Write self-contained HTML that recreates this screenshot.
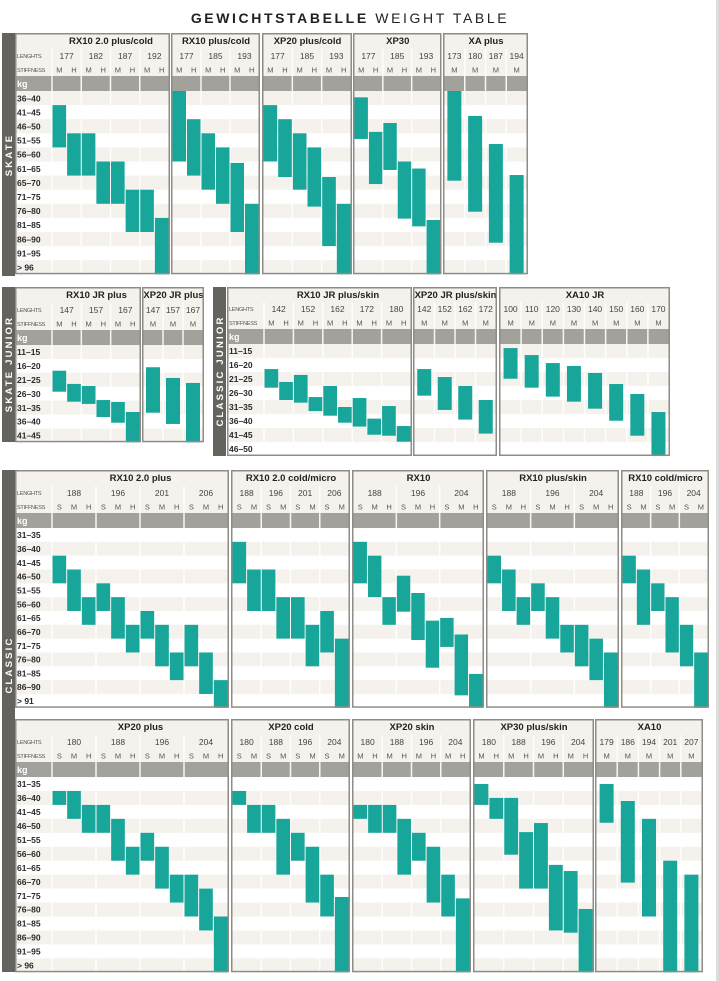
<!DOCTYPE html>
<html><head><meta charset="utf-8">
<style>
html,body{margin:0;padding:0;background:#fff;}
svg{display:block;font-family:"Liberation Sans",sans-serif;}
</style></head>
<body>
<svg id="chart" width="719" height="981" viewBox="0 0 719 981" xmlns="http://www.w3.org/2000/svg">
<rect x="716" y="0" width="3" height="981" fill="#dcdcdc"/>
<text x="350" y="23" text-anchor="middle" font-size="14" fill="#222" letter-spacing="2.6"><tspan font-weight="bold">GEWICHTSTABELLE</tspan> WEIGHT TABLE</text>
</svg>
<script>
// ---- row labels ----
const rowsSkate = ['36–40','41–45','46–50','51–55','56–60','61–65','65–70','71–75','76–80','81–85','86–90','91–95','> 96'];
const rowsJunior = ['11–15','16–20','21–25','26–30','31–35','36–40','41–45'];
const rowsClassicJunior = ['11–15','16–20','21–25','26–30','31–35','36–40','41–45','46–50'];
const rowsClassic = ['31–35','36–40','41–45','46–50','51–55','56–60','61–65','66–70','71–75','76–80','81–85','86–90','> 91'];
const rowsClassic2 = ['31–35','36–40','41–45','46–50','51–55','56–60','61–65','66–70','71–75','76–80','81–85','86–90','91–95','> 96'];

// ---- length groups [length, stiffness letters] ----
const gS1P1 = [[177,'MH'],[182,'MH'],[187,'MH'],[192,'MH']];
const gS1P2 = [[177,'MH'],[185,'MH'],[193,'MH']];
const gS1P3 = [[177,'MH'],[185,'MH'],[193,'MH']];
const gS1P4 = [[177,'MH'],[185,'MH'],[193,'MH']];
const gS1P5 = [[173,'M'],[180,'M'],[187,'M'],[194,'M']];
const gS2A = [[147,'MH'],[157,'MH'],[167,'MH']];
const gS2B = [[147,'M'],[157,'M'],[167,'M']];
const gS2C = [[142,'MH'],[152,'MH'],[162,'MH'],[172,'MH'],[180,'MH']];
const gS2D = [[142,'M'],[152,'M'],[162,'M'],[172,'M']];
const gS2E = [[100,'M'],[110,'M'],[120,'M'],[130,'M'],[140,'M'],[150,'M'],[160,'M'],[170,'M']];
const gS3P1 = [[188,'SMH'],[196,'SMH'],[201,'SMH'],[206,'SMH']];
const gS3P2 = [[188,'SM'],[196,'SM'],[201,'SM'],[206,'SM']];
const gS3P3 = [[188,'SMH'],[196,'SMH'],[204,'SMH']];
const gS3P4 = [[188,'SMH'],[196,'SMH'],[204,'SMH']];
const gS3P5 = [[188,'SM'],[196,'SM'],[204,'SM']];
const gS4P1 = [[180,'SMH'],[188,'SMH'],[196,'SMH'],[204,'SMH']];
const gS4P2 = [[180,'SM'],[188,'SM'],[196,'SM'],[204,'SM']];
const gS4P3 = [[180,'MH'],[188,'MH'],[196,'MH'],[204,'MH']];
const gS4P4 = [[180,'MH'],[188,'MH'],[196,'MH'],[204,'MH']];
const gS4P5 = [[179,'M'],[186,'M'],[194,'M'],[201,'M'],[207,'M']];

// ---- bars: [column, startRow, endRow] in weight-row units ----
const bS1P1 = [[0,1,4],[1,3,6],[2,3,6],[3,5,8],[4,5,8],[5,7,10],[6,7,10],[7,9,13]];
const bS1P2 = [[0,0,5],[1,2,6],[2,3,7],[3,4,8],[4,5.1,10],[5,8,13]];
const bS1P3 = [[0,1,5],[1,2,6.1],[2,3,7],[3,4,8.2],[4,6.1,11],[5,8,13]];
const bS1P4 = [[0,0.45,3.4],[1,2.9,6.6],[2,2.27,5.6],[3,5,9.05],[4,5.5,9.6],[5,9.15,13]];
const bS1P5 = [[0,0,6.36],[1,1.77,8.56],[2,3.76,10.76],[3,5.96,13]];
const bS2A = [[0,1.85,3.36],[1,2.8,4.08],[2,2.95,4.24],[3,3.96,5.18],[4,4.1,5.59],[5,4.82,7]];
const bS2B = [[0,1.6,4.87],[1,2.37,5.68],[2,2.73,7]];
const bS2C = [[0,1.79,3.12],[1,2.71,4],[2,2.21,4.19],[3,3.79,4.79],[4,3,5.12],[5,4.5,5.62],[6,3.86,5.9],[7,5.33,6.48],[8,4.43,6.55],[9,5.86,6.98]];
const bS2D = [[0,1.79,3.69],[1,2.36,4.71],[2,3,5.4],[3,4,6.4]];
const bS2E = [[0,0.29,2.48],[1,0.79,3.12],[2,1.36,3.76],[3,1.57,4.12],[4,2.07,4.62],[5,2.86,5.48],[6,3.57,6.55],[7,4.86,7.9]];
const bS3P1 = [[0,2,4],[1,3,6],[2,5,7],[3,4,6],[4,5,8],[5,7,9],[6,6,8],[7,7,10],[8,9,11],[9,7,10],[10,9,12],[11,11,13]];
const bS3P2 = [[0,1,4],[1,3,6],[2,3,6],[3,5,8],[4,5,8],[5,7,10],[6,6,9],[7,8,13]];
const bS3P3 = [[0,1,4],[1,2,5],[2,5,7],[3,3.45,6.05],[4,4.7,8.1],[5,6.7,10.1],[6,6.5,8.6],[7,7.7,12.1],[8,10.55,13]];
const bS3P4 = [[0,2,4],[1,3,6],[2,5,7],[3,4,6],[4,5,8],[5,7,9],[6,7,10],[7,8,11],[8,9,13]];
const bS3P5 = [[0,2,4],[1,3,7],[2,4,6],[3,5,9],[4,7,10],[5,9,13]];
const bS4P1 = [[0,1,2],[1,1,3],[2,2,4],[3,2,4],[4,3,6],[5,5,7],[6,4,6],[7,5,8],[8,7,9],[9,7,10],[10,8,11],[11,10,14]];
const bS4P2 = [[0,1,2],[1,2,4],[2,2,4],[3,3,7],[4,4,6],[5,5,9],[6,7,10],[7,8.6,14]];
const bS4P3 = [[0,2,3],[1,2,4],[2,2,4],[3,3,7],[4,4,6],[5,5,9],[6,7,10],[7,8.7,14]];
const bS4P4 = [[0,0.5,2],[1,1.5,3],[2,1.5,5.57],[3,3.95,8],[4,3.3,8],[5,6.3,11],[6,6.74,11.16],[7,9.46,14]];
const bS4P5 = [[0,0.5,3.28],[1,1.72,7.57],[2,3,10],[3,6,14],[4,7,14]];

const sections = [
 {name:'skate', top:33, rowTop:91, rowH:14.1, rows:rowsSkate, shade0:true, lx0:16, lx1:52, side:{x:2,y0:33,y1:276,cy:155,label:'SKATE'},
  panels:[
   {title:'RX10 2.0 plus/cold',x0:15,x1:170,cx0:52,groups:gS1P1,bars:bS1P1,first:true},
   {title:'RX10 plus/cold',x0:171,x1:260,cx0:172,groups:gS1P2,bars:bS1P2},
   {title:'XP20 plus/cold',x0:262,x1:352,cx0:263,groups:gS1P3,bars:bS1P3},
   {title:'XP30',x0:353,x1:441.5,cx0:354,groups:gS1P4,bars:bS1P4},
   {title:'XA plus',x0:443,x1:528,cx0:444,groups:gS1P5,bars:bS1P5}]},
 {name:'skate-junior', top:287, rowTop:345, rowH:13.9, rows:rowsJunior, shade0:true, lx0:16, lx1:52, side:{x:2,y0:287,y1:442,cy:364,label:'SKATE JUNIOR'},
  panels:[
   {title:'RX10 JR plus',x0:15,x1:141,cx0:52,groups:gS2A,bars:bS2A,first:true},
   {title:'XP20 JR plus',x0:142,x1:204,cx0:143,groups:gS2B,bars:bS2B}]},
 {name:'classic-junior', top:287, rowTop:344, rowH:14, rows:rowsClassicJunior, shade0:true, lx0:228, lx1:264, side:{x:213,y0:287,y1:456,cy:371,label:'CLASSIC JUNIOR'},
  panels:[
   {title:'RX10 JR plus/skin',x0:227,x1:412,cx0:264,groups:gS2C,bars:bS2C,first:true},
   {title:'XP20 JR plus/skin',x0:413,x1:497,cx0:414,groups:gS2D,bars:bS2D},
   {title:'XA10 JR',x0:499,x1:670,cx0:500,groups:gS2E,bars:bS2E}]},
 {name:'classic', top:470, rowTop:528, rowH:13.83, rows:rowsClassic, shade0:false, lx0:16, lx1:52, side:{x:2,y0:470,y1:972,cy:665,label:'CLASSIC'},
  panels:[
   {title:'RX10 2.0 plus',x0:15,x1:229,cx0:52,groups:gS3P1,bars:bS3P1,first:true},
   {title:'RX10 2.0 cold/micro',x0:231,x1:350,cx0:232,groups:gS3P2,bars:bS3P2},
   {title:'RX10',x0:352,x1:484,cx0:353,groups:gS3P3,bars:bS3P3},
   {title:'RX10 plus/skin',x0:486,x1:619,cx0:487,groups:gS3P4,bars:bS3P4},
   {title:'RX10 cold/micro',x0:621,x1:709,cx0:622,groups:gS3P5,bars:bS3P5}]},
 {name:'classic-2', top:719, rowTop:777, rowH:13.95, rows:rowsClassic2, shade0:false, lx0:16, lx1:52, side:null,
  panels:[
   {title:'XP20 plus',x0:15,x1:229,cx0:52,groups:gS4P1,bars:bS4P1,first:true},
   {title:'XP20 cold',x0:231,x1:350,cx0:232,groups:gS4P2,bars:bS4P2},
   {title:'XP20 skin',x0:352,x1:471,cx0:353,groups:gS4P3,bars:bS4P3},
   {title:'XP30 plus/skin',x0:473,x1:594,cx0:474,groups:gS4P4,bars:bS4P4},
   {title:'XA10',x0:595,x1:703,cx0:596,groups:gS4P5,bars:bS4P5}]}
];

const NS = 'http://www.w3.org/2000/svg';
const svg = document.getElementById('chart');
function mk(tag, parent){ const e = document.createElementNS(NS, tag); (parent||svg).appendChild(e); return e; }
function rect(p, x, y, w, h, fill){ const r = mk('rect', p); r.setAttribute('x', x); r.setAttribute('y', y); r.setAttribute('width', w); r.setAttribute('height', h); r.setAttribute('fill', fill); return r; }
function txt(p, x, y, s, size, opts){ const t = mk('text', p); t.setAttribute('x', x); t.setAttribute('y', y); t.setAttribute('font-size', size); t.setAttribute('fill', (opts&&opts.fill)||'#333'); t.setAttribute('text-anchor', (opts&&opts.anchor)||'middle'); if(opts&&opts.bold) t.setAttribute('font-weight','bold'); if(opts&&opts.ls) t.setAttribute('letter-spacing', opts.ls); t.textContent = s; return t; }

const BEIGE = '#f5f2ed', GRAY = '#a3a19c', TEAL = '#18a69a', BORDER = '#8e8c87';

sections.forEach(sec => {
  const g = mk('g');
  
  
  const yRow = i => sec.rowTop + i * sec.rowH;
  const bottom = yRow(sec.rows.length);
  const kgY = sec.rowTop - 15, stY = sec.rowTop - 29, lnY = sec.rowTop - 43;

  if (sec.side) {
    const sb = rect(g, sec.side.x, sec.side.y0, 13, sec.side.y1 - sec.side.y0, '#64635d');
    
    
    const st = txt(g, sec.side.x + 6.5, sec.side.cy + 3.5, sec.side.label, 9.5, {fill:'#fff', bold:true, ls:2.2});
    st.setAttribute('transform', 'rotate(-90 ' + (sec.side.x + 6.5) + ' ' + sec.side.cy + ')');
    
    
  }

  sec.panels.forEach((p, pi) => {
    const pg = mk('g', g);
    
    
    rect(pg, p.x0, sec.top, p.x1 - p.x0, bottom - sec.top, '#fff');
    rect(pg, p.x0, sec.top, p.x1 - p.x0, kgY - sec.top, BEIGE);
    const cols = [];
    const groupEdges = [];
    p.groups.forEach(gr => { groupEdges.push(cols.length); gr[1].split('').forEach(s => cols.push(s)); });
    const colW = (p.x1 - 1 - p.cx0) / cols.length;
    const cx = i => p.cx0 + i * colW;
    // body rows
    sec.rows.forEach((r, i) => {
      const shade = ((i % 2 === 0) === sec.shade0);
      if (shade) rect(pg, p.x0 + 1, yRow(i), p.x1 - p.x0 - 2, sec.rowH, BEIGE);
      if (p.first) {
        const rl = txt(pg, sec.lx0 + 1, yRow(i) + sec.rowH / 2 + 3.2, r, 8.5, {anchor:'start', bold:true, fill:'#2a2a2a'});
        
        
      }
    });
    // kg header
    rect(pg, p.x0 + 1, kgY, p.x1 - p.x0 - 2, 15, GRAY);
    if (p.first) {
      txt(pg, sec.lx0 + 1, kgY + 11, 'kg', 9, {anchor:'start', bold:true, fill:'#fff'});
      txt(pg, sec.lx0 + 1, lnY + 10, 'LENGHTS', 5.6, {anchor:'start', fill:'#555', ls:-0.3});
      txt(pg, sec.lx0 + 1, stY + 10, 'STIFFNESS', 5.6, {anchor:'start', fill:'#555', ls:-0.3});
    }
    // group separators
    const seps = p.first ? [p.cx0] : [];
    groupEdges.forEach((e, k) => { if (k > 0) seps.push(cx(e)); });
    seps.forEach(x => {
      const s = rect(pg, x - 0.75, lnY + 1, 1.5, bottom - lnY - 1, '#fff');
      s.setAttribute('opacity', '0.9');
    });
    // titles / lengths / stiffness
    const tt = txt(pg, (p.cx0 + p.x1) / 2, sec.top + 11, p.title, 9.5, {bold:true, fill:'#222'});
    
    
    p.groups.forEach((gr, k) => {
      const a = groupEdges[k], n = gr[1].length;
      const lt = txt(pg, cx(a) + n * colW / 2, lnY + 11, String(gr[0]), 8.5, {fill:'#444'});
      
      
    });
    cols.forEach((s, i) => {
      const sl = txt(pg, cx(i) + colW / 2, stY + 10.5, s, 7.5, {fill:'#555'});
      
      
    });
    // bars
    p.bars.forEach(b => {
      const w = colW > 17 ? 14 : colW - 1;
      const x = cx(b[0]) + (colW - w) / 2;
      const y0 = yRow(b[1]), y1 = yRow(b[2]);
      const br = rect(pg, x, y0, w, y1 - y0, TEAL);
      
      
    });
    // border
    const bd = rect(pg, p.x0 + 0.75, sec.top + 0.75, p.x1 - p.x0 - 1.5, bottom - sec.top - 1.5, 'none');
    bd.setAttribute('stroke', BORDER);
    bd.setAttribute('stroke-width', '1.5');
  });
});
</script>
</body></html>
